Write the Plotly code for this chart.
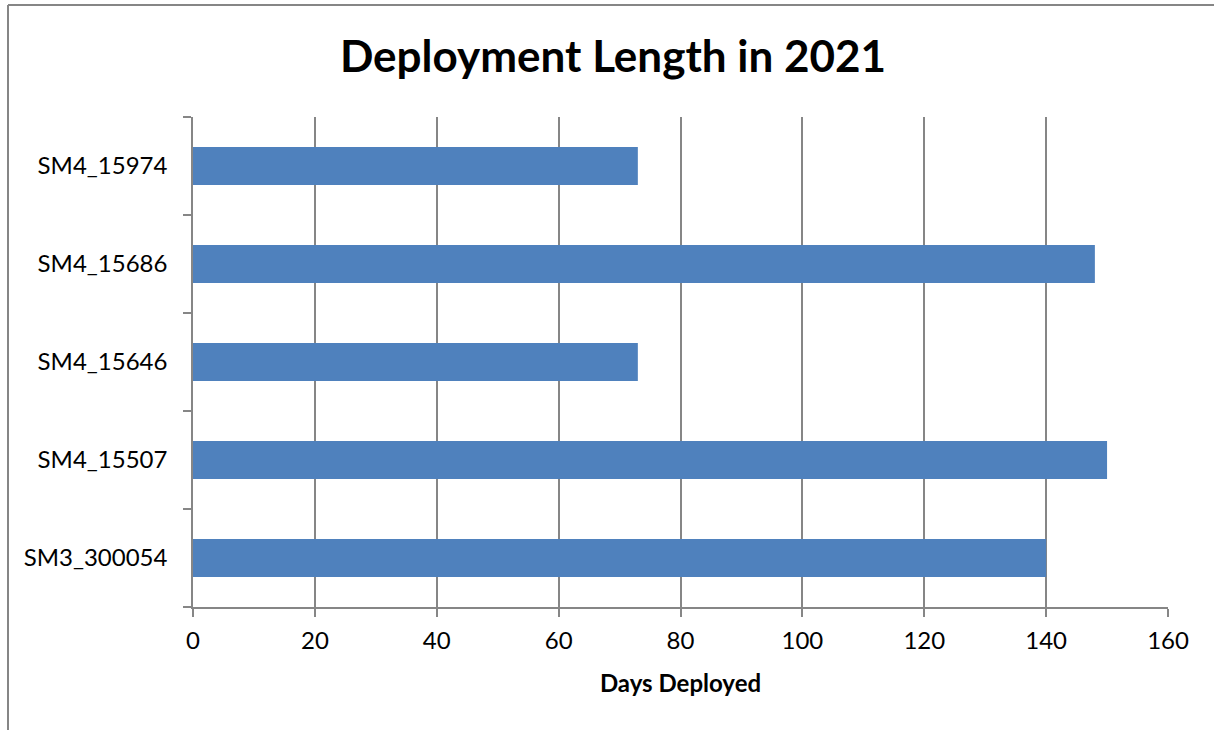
import plotly.graph_objects as go

categories = ["SM3_300054", "SM4_15507", "SM4_15646", "SM4_15686", "SM4_15974"]
days = [140, 150, 73, 148, 73]
x_ticks = [0, 20, 40, 60, 80, 100, 120, 140, 160]

W, H = 1214, 730
L, R, T, B = 193, 1168, 117, 607

def px(x):
    return (x - L) / (R - L)

def py(y):
    return (B - y) / (B - T)

FONT = "Lato"
GRAY = "#868686"

fig = go.Figure(go.Bar(
    y=categories, x=days, orientation="h",
    marker=dict(color="#4F81BD", line=dict(width=0)),
    hoverinfo="x+y",
))

fig.update_layout(
    width=W, height=H,
    margin=dict(l=L, r=W - R, t=T, b=H - B, pad=0),
    paper_bgcolor="white", plot_bgcolor="white",
    bargap=0.61,
    showlegend=False,
    font=dict(family=FONT, color="black"),
    title=dict(text="<b>Deployment Length in 2021</b>", xref="container", x=613 / W,
               xanchor="center", yref="container", y=1 - 57 / H, yanchor="middle",
               font=dict(family=FONT, size=44, color="black")),
    xaxis=dict(range=[0, 160], tickvals=x_ticks, ticktext=[str(v) for v in x_ticks],
               showgrid=True, gridcolor=GRAY, gridwidth=1.5,
               showline=True, linecolor=GRAY, linewidth=1.5,
               ticks="outside", ticklen=8, tickcolor=GRAY, tickwidth=1.5,
               tickfont=dict(size=24, family=FONT), zeroline=False,
               ticklabelstandoff=3,
               title=dict(text="<b>Days Deployed</b>", font=dict(size=24, family=FONT), standoff=23)),
    yaxis=dict(type="category", categoryorder="array", categoryarray=categories,
               showgrid=False, showline=True, linecolor=GRAY, linewidth=1.5,
               ticks="outside", ticklen=8, tickcolor=GRAY, tickwidth=1.5,
               tickson="boundaries", tickfont=dict(size=24, family=FONT),
               ticklabelstandoff=19, zeroline=False),
    shapes=[
        dict(type="line", xref="paper", yref="paper", x0=px(8), x1=px(8),
             y0=py(740), y1=py(5), line=dict(color=GRAY, width=2)),
        dict(type="line", xref="paper", yref="paper", x0=px(8), x1=px(1230),
             y0=py(5), y1=py(5), line=dict(color=GRAY, width=2)),
    ],
)

fig.write_html("out.html", config={"displayModeBar": False},
               post_script="document.body.style.margin='0';document.body.style.overflow='hidden';")
